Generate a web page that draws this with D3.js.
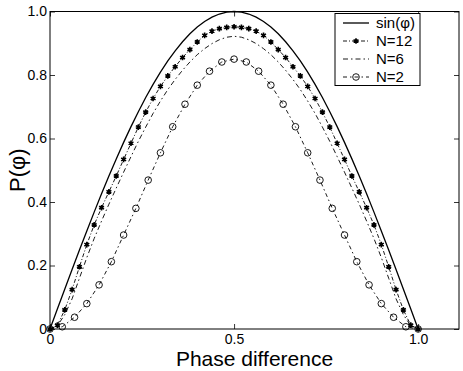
<!DOCTYPE html>
<html>
<head>
<meta charset="utf-8">
<script src="https://cdn.jsdelivr.net/npm/d3@7"></script>
<style>
  html, body { margin: 0; padding: 0; background: #fff; }
  svg { display: block; font-family: "Liberation Sans", Arial, Helvetica, sans-serif; }
</style>
</head>
<body>
<svg id="chart" width="463" height="371"></svg>
<script>
// ---------- data ----------
const phi51 = [0,0.02,0.04,0.06,0.08,0.10,0.12,0.14,0.16,0.18,0.20,0.22,0.24,0.26,0.28,0.30,0.32,0.34,0.36,0.38,0.40,0.42,0.44,0.46,0.48,0.50,
  0.52,0.54,0.56,0.58,0.60,0.62,0.64,0.66,0.68,0.70,0.72,0.74,0.76,0.78,0.80,0.82,0.84,0.86,0.88,0.90,0.92,0.94,0.96,0.98,1.00];
const sinValues = [0,0.0628,0.1253,0.1874,0.2487,0.3090,0.3681,0.4258,0.4818,0.5358,0.5878,0.6374,0.6845,0.7290,0.7705,0.8090,0.8443,0.8763,0.9048,0.9298,0.9511,0.9686,0.9823,0.9921,0.9980,1.0000,
  0.9980,0.9921,0.9823,0.9686,0.9511,0.9298,0.9048,0.8763,0.8443,0.8090,0.7705,0.7290,0.6845,0.6374,0.5878,0.5358,0.4818,0.4258,0.3681,0.3090,0.2487,0.1874,0.1253,0.0628,0];
const n12Values = [0,0.012,0.060,0.124,0.196,0.266,0.328,0.382,0.432,0.482,0.534,0.585,0.636,0.683,0.726,0.764,0.797,0.826,0.855,0.880,0.904,0.925,0.938,0.946,0.950,0.952,
  0.950,0.946,0.938,0.925,0.904,0.880,0.855,0.826,0.797,0.764,0.726,0.683,0.636,0.585,0.534,0.482,0.432,0.382,0.328,0.266,0.196,0.124,0.060,0.012,0];
const n6Values = [0,0.010,0.045,0.095,0.160,0.225,0.285,0.340,0.393,0.444,0.494,0.543,0.591,0.636,0.679,0.718,0.754,0.786,0.815,0.841,0.864,0.883,0.899,0.911,0.919,0.922,
  0.919,0.911,0.899,0.883,0.864,0.841,0.815,0.786,0.754,0.718,0.679,0.636,0.591,0.543,0.494,0.444,0.393,0.340,0.285,0.225,0.160,0.095,0.045,0.010,0];
const phi31 = [0,0.0333,0.0667,0.1,0.1333,0.1667,0.2,0.2333,0.2667,0.3,0.3333,0.3667,0.4,0.4333,0.4667,0.5,
  0.5333,0.5667,0.6,0.6333,0.6667,0.7,0.7333,0.7667,0.8,0.8333,0.8667,0.9,0.9333,0.9667,1.0];
const n2Values = [0,0.007,0.037,0.080,0.139,0.212,0.296,0.380,0.469,0.555,0.637,0.708,0.768,0.812,0.841,0.850,
  0.841,0.812,0.768,0.708,0.637,0.555,0.469,0.380,0.296,0.212,0.139,0.080,0.037,0.007,0];
const xTicks = [0, 0.5, 1.0];
const xTickLabels = ["0", "0.5", "1.0"];
const yTicks = [0, 0.2, 0.4, 0.6, 0.8, 1.0];
const yTickLabels = ["0", "0.2", "0.4", "0.6", "0.8", "1.0"];
const legendLabels = ["sin(\u03C6)", "N=12", "N=6", "N=2"];

// ---------- layout ----------
const svg = d3.select("#chart");
const mLeft = 50, mRight = 459, mTop = 11.5, mBottom = 329;
const x = d3.scaleLinear().domain([0, 1.111]).range([mLeft, mRight]);
const y = d3.scaleLinear().domain([0, 1]).range([mBottom, mTop]);

const line = d3.line().x(d => x(d[0])).y(d => y(d[1]));

// series
const series = [
  { name: legendLabels[0], xs: phi51, ys: sinValues, dash: null, width: 1.3, marker: null },
  { name: legendLabels[1], xs: phi51, ys: n12Values, dash: "4,2,1,2", width: 0.9, marker: "star" },
  { name: legendLabels[2], xs: phi51, ys: n6Values, dash: "5,3,1.5,3", width: 0.9, marker: null },
  { name: legendLabels[3], xs: phi31, ys: n2Values, dash: "4,3,1.5,3", width: 0.9, marker: "circle" }
];

const plot = svg.append("g");
series.forEach(s => {
  const pts = s.xs.map((v, i) => [v, s.ys[i]]);
  plot.append("path").datum(pts)
    .attr("d", line)
    .attr("fill", "none")
    .attr("stroke", "#000")
    .attr("stroke-width", s.width)
    .attr("stroke-dasharray", s.dash);
});

const asterisk = d3.symbol().type(d3.symbolAsterisk).size(22);
function drawMarker(g, type, cx, cy) {
  if (type === "star") {
    g.append("path").attr("d", asterisk())
      .attr("transform", `translate(${cx},${cy})`)
      .attr("fill", "none").attr("stroke", "#000").attr("stroke-width", 1.6);
    g.append("circle").attr("cx", cx).attr("cy", cy).attr("r", 1.6).attr("fill", "#000");
  } else if (type === "circle") {
    g.append("circle").attr("cx", cx).attr("cy", cy).attr("r", 3.3)
      .attr("fill", "none").attr("stroke", "#000").attr("stroke-width", 0.9);
  }
}
series.forEach(s => {
  if (!s.marker) return;
  s.xs.forEach((v, i) => drawMarker(plot, s.marker, x(v), y(s.ys[i])));
});

// frame
svg.append("rect")
  .attr("x", mLeft).attr("y", mTop)
  .attr("width", mRight - mLeft).attr("height", mBottom - mTop)
  .attr("fill", "none").attr("stroke", "#000").attr("stroke-width", 1);

// axes (inward ticks on all sides)
const tickLen = 5;
const axisBottom = d3.axisBottom(x).tickValues(xTicks).tickSize(-tickLen).tickPadding(5)
  .tickFormat((d, i) => xTickLabels[i]);
const gxB = svg.append("g").attr("transform", `translate(0,${mBottom})`).call(axisBottom);
const axisTop = d3.axisTop(x).tickValues(xTicks).tickSize(-tickLen).tickFormat("");
const gxT = svg.append("g").attr("transform", `translate(0,${mTop})`).call(axisTop);
const axisLeft = d3.axisLeft(y).tickValues(yTicks).tickSize(-tickLen).tickPadding(3)
  .tickFormat((d, i) => yTickLabels[i]);
const gyL = svg.append("g").attr("transform", `translate(${mLeft},0)`).call(axisLeft);
const axisRight = d3.axisRight(y).tickValues(yTicks).tickSize(-tickLen).tickFormat("");
const gyR = svg.append("g").attr("transform", `translate(${mRight},0)`).call(axisRight);
[gxB, gxT, gyL, gyR].forEach(g => {
  g.select(".domain").remove();
  g.selectAll(".tick line").attr("stroke", "#000").attr("stroke-width", 0.8);
  g.selectAll("text").attr("fill", "#000").attr("font-size", 14)
    .attr("font-family", "Liberation Sans, Arial, sans-serif");
});

// axis titles
svg.append("text")
  .attr("x", (mLeft + mRight) / 2).attr("y", 366)
  .attr("text-anchor", "middle").attr("font-size", 21).attr("fill", "#000")
  .text("Phase difference");
svg.append("text")
  .attr("transform", `translate(25,${(mTop + mBottom) / 2}) rotate(-90)`)
  .attr("text-anchor", "middle").attr("font-size", 22).attr("fill", "#000")
  .text("P(\u03C6)");

// legend
const lg = svg.append("g");
const lx = 335, ly = 13.5, lw = 85, lh = 72;
lg.append("rect").attr("x", lx).attr("y", ly).attr("width", lw).attr("height", lh)
  .attr("fill", "#fff").attr("stroke", "#000").attr("stroke-width", 1);
series.forEach((s, i) => {
  const yy = ly + 9.5 + i * 18;
  lg.append("line").attr("x1", lx + 8).attr("x2", lx + 34).attr("y1", yy).attr("y2", yy)
    .attr("stroke", "#000").attr("stroke-width", s.width).attr("stroke-dasharray", s.dash);
  if (s.marker) drawMarker(lg, s.marker, lx + 21, yy);
  lg.append("text").attr("x", lx + 41).attr("y", yy).attr("dy", "0.36em")
    .attr("font-size", 15).attr("fill", "#000").text(s.name);
});
</script>
</body>
</html>
